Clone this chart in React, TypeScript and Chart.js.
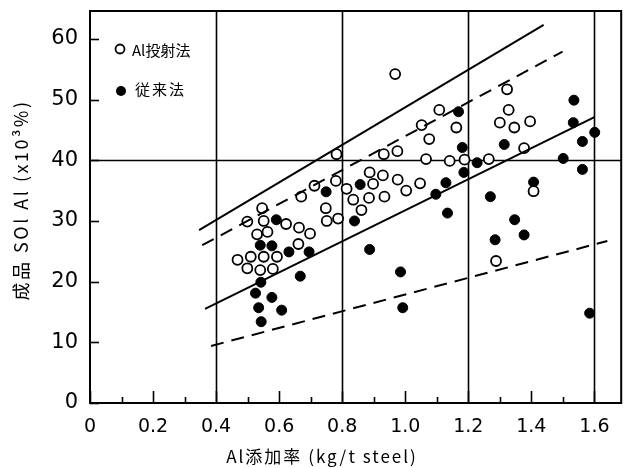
import React, { useEffect, useRef } from "react";
import { Chart, registerables } from "chart.js";

Chart.register(...registerables);

// ---- data ----
const xTickValues = [0, 0.2, 0.4, 0.6, 0.8, 1.0, 1.2, 1.4, 1.6];
const xMinorTicks = [0.1, 0.3, 0.5, 0.7, 0.9, 1.1, 1.3, 1.5];
const yTickValues = [0, 10, 20, 30, 40, 50, 60];
const xGridValues = [0.4, 0.8, 1.2, 1.6];
const yGridValues = [40];

const seriesOpenName = "Al投射法";
const seriesFilledName = "従来法";

const openX = [
  0.468, 0.51, 0.551, 0.593, 0.499, 0.54, 0.58, 0.53, 0.563, 0.661, 0.698, 0.663, 0.622,
  0.499, 0.551, 0.546, 0.67, 0.748, 0.751, 0.787, 0.712, 0.78, 0.814, 0.835, 0.861, 0.885,
  0.934, 0.898, 0.929, 0.887, 0.782, 0.932, 0.975, 0.976, 1.003, 1.047, 0.968, 1.108, 1.052,
  1.162, 1.076, 1.066, 1.141, 1.188, 1.265, 1.323, 1.328, 1.3, 1.346, 1.396, 1.377, 1.288,
  1.407,
];
const openY = [
  23.6, 24.1, 24.1, 24.1, 22.2, 21.9, 22.1, 27.8, 28.2, 26.2, 27.9, 28.9, 29.5,
  29.9, 30.0, 32.1, 34.0, 32.1, 30.0, 30.4, 35.8, 36.6, 35.3, 33.5, 31.8, 33.8,
  34.0, 36.1, 37.5, 38.0, 41.0, 41.0, 41.5, 36.8, 35.0, 36.2, 54.2, 48.3, 45.8,
  45.4, 43.5, 40.2, 39.9, 40.1, 40.2, 51.7, 48.3, 46.2, 45.4, 46.4, 42.0, 23.4,
  34.9,
];

const filledX = [
  0.591, 0.54, 0.577, 0.631, 0.695, 0.667, 0.542, 0.525, 0.577, 0.535, 0.608, 0.543,
  0.749, 0.857, 0.839, 0.887, 0.985, 0.992, 1.169, 1.181, 1.228, 1.186, 1.129, 1.097,
  1.134, 1.27, 1.285, 1.535, 1.533, 1.601, 1.562, 1.314, 1.501, 1.562, 1.347, 1.377,
  1.407, 1.585,
];
const filledY = [
  30.2, 26.0, 25.9, 24.9, 24.9, 20.9, 19.9, 18.1, 17.4, 15.7, 15.3, 13.4,
  34.8, 36.0, 30.0, 25.3, 21.6, 15.7, 48.0, 42.1, 39.6, 38.0, 36.3, 34.4,
  31.3, 34.0, 26.9, 49.9, 46.2, 44.6, 43.1, 42.6, 40.3, 38.5, 30.2, 27.7,
  36.4, 14.8,
];

const upperSolidX = [0.346, 1.439];
const upperSolidY = [28.5, 62.3];
const upperDashX = [0.356, 1.499];
const upperDashY = [26.0, 57.9];
const lowerSolidX = [0.365, 1.6];
const lowerSolidY = [15.5, 47.1];
const lowerDashX = [0.384, 1.641];
const lowerDashY = [9.4, 26.7];

const xTitle = "Al添加率 (kg/t steel)";
const yTitle = "成品 SOl Al (x10³%)";

const toPts = (xs: number[], ys: number[]) => xs.map((x, i) => ({ x, y: ys[i] }));

const FONT = "'DejaVu Sans', sans-serif";
const CJK = "'Noto Sans CJK JP', 'DejaVu Sans', sans-serif";

const decorPlugin = {
  id: "decor",
  beforeDatasetsDraw(chart: any) {
    const { ctx, chartArea } = chart;
    const xs = chart.scales.x;
    const ys = chart.scales.y;
    const { left, right, top, bottom } = chartArea;
    ctx.save();
    ctx.strokeStyle = "#000";
    ctx.lineWidth = 1.6;
    xGridValues.forEach((v) => {
      const px = Math.round(xs.getPixelForValue(v)) + 0.5;
      ctx.beginPath();
      ctx.moveTo(px, top);
      ctx.lineTo(px, bottom);
      ctx.stroke();
    });
    ctx.lineWidth = 1.4;
    yGridValues.forEach((v) => {
      const py = Math.round(ys.getPixelForValue(v)) + 0.5;
      ctx.beginPath();
      ctx.moveTo(left, py);
      ctx.lineTo(right, py);
      ctx.stroke();
    });
    ctx.lineWidth = 2;
    ctx.strokeRect(left, top, right - left, bottom - top);
    ctx.lineWidth = 1.6;
    xTickValues.forEach((v) => {
      const px = Math.round(xs.getPixelForValue(v)) + 0.5;
      ctx.beginPath();
      ctx.moveTo(px, bottom);
      ctx.lineTo(px, bottom - 12);
      ctx.stroke();
    });
    xMinorTicks.forEach((v) => {
      const px = Math.round(xs.getPixelForValue(v)) + 0.5;
      ctx.beginPath();
      ctx.moveTo(px, bottom);
      ctx.lineTo(px, bottom - 6);
      ctx.stroke();
    });
    yTickValues.forEach((v) => {
      const py = Math.round(ys.getPixelForValue(v)) + 0.5;
      ctx.beginPath();
      ctx.moveTo(left, py);
      ctx.lineTo(left + 9, py);
      ctx.stroke();
    });
    ctx.restore();
  },
  afterDraw(chart: any) {
    const { ctx, chartArea } = chart;
    ctx.save();
    ctx.fillStyle = "#000";
    ctx.strokeStyle = "#000";
    const lx = chartArea.left + 30;
    ctx.lineWidth = 1.8;
    ctx.beginPath();
    ctx.arc(lx, 49, 4.5, 0, Math.PI * 2);
    ctx.fillStyle = "#fff";
    ctx.fill();
    ctx.stroke();
    ctx.fillStyle = "#000";
    ctx.beginPath();
    ctx.arc(lx + 1, 91, 5, 0, Math.PI * 2);
    ctx.fill();
    ctx.font = "15px " + CJK;
    ctx.textBaseline = "middle";
    ctx.textAlign = "left";
    ctx.fillText(seriesOpenName, lx + 12, 50);
    (ctx as any).letterSpacing = "2px";
    ctx.fillText(seriesFilledName, lx + 15, 89);
    // x title
    ctx.font = "17px " + CJK;
    (ctx as any).letterSpacing = "2px";
    ctx.textAlign = "center";
    ctx.fillText(xTitle, 322, 457);
    // y title
    ctx.translate(21, 200);
    ctx.rotate(-Math.PI / 2);
    ctx.font = "18px " + CJK;
    (ctx as any).letterSpacing = "2.5px";
    ctx.fillText(yTitle, 0, 0);
    ctx.restore();
  },
};

export default function App() {
  const ref = useRef<HTMLCanvasElement | null>(null);
  useEffect(() => {
    if (!ref.current) return;
    const lineDs = (xs: number[], ys: number[], dash: number[]) => ({
      type: "line" as const,
      data: toPts(xs, ys),
      borderColor: "#000",
      borderWidth: 2,
      borderDash: dash,
      pointRadius: 0,
      showLine: true,
      fill: false,
    });
    const chart = new Chart(ref.current, {
      type: "scatter",
      data: {
        datasets: [
          lineDs(upperSolidX, upperSolidY, []),
          lineDs(upperDashX, upperDashY, [13, 8]),
          lineDs(lowerSolidX, lowerSolidY, []),
          lineDs(lowerDashX, lowerDashY, [13, 8]),
          {
            label: seriesOpenName,
            data: toPts(openX, openY),
            pointRadius: 5,
            pointBorderWidth: 1.8,
            pointBackgroundColor: "#fff",
            pointBorderColor: "#000",
          },
          {
            label: seriesFilledName,
            data: toPts(filledX, filledY),
            pointRadius: 5,
            pointBorderWidth: 1,
            pointBackgroundColor: "#000",
            pointBorderColor: "#000",
          },
        ] as any,
      },
      options: {
        animation: false,
        responsive: false,
        events: [],
        layout: { padding: { top: 11, right: 3, left: 0, bottom: 0 } },
        plugins: { legend: { display: false }, tooltip: { enabled: false } },
        scales: {
          x: {
            type: "linear",
            min: 0,
            max: 1.685,
            grid: { display: false, drawTicks: false },
            border: { display: false },
            afterBuildTicks: (s: any) => {
              s.ticks = xTickValues.map((v) => ({ value: v }));
            },
            afterFit: (s: any) => {
              s.height = 65;
              s.paddingLeft = 0;
              s.paddingRight = 0;
            },
            ticks: {
              autoSkip: false,
              maxRotation: 0,
              padding: 13,
              color: "#000",
              font: { family: FONT, size: 19 },
              callback: (v: any) => (Number(v) === 0 ? "0" : Number(v).toFixed(1)),
            },
          },
          y: {
            type: "linear",
            min: 0,
            max: 64.6,
            grid: { display: false, drawTicks: false },
            border: { display: false },
            afterBuildTicks: (s: any) => {
              s.ticks = yTickValues.map((v) => ({ value: v }));
            },
            afterFit: (s: any) => {
              s.width = 90;
              s.paddingTop = 0;
              s.paddingBottom = 0;
            },
            ticks: {
              autoSkip: false,
              padding: 12,
              color: "#000",
              font: { family: FONT, size: 21 },
              callback: (v: any) => String(v),
            },
          },
        },
      },
      plugins: [decorPlugin],
    });
    return () => chart.destroy();
  }, []);
  return (
    <canvas
      ref={ref}
      width={628}
      height={468}
      style={{ position: "fixed", left: 0, top: 0, width: 628, height: 468, background: "#fff" }}
    />
  );
}
